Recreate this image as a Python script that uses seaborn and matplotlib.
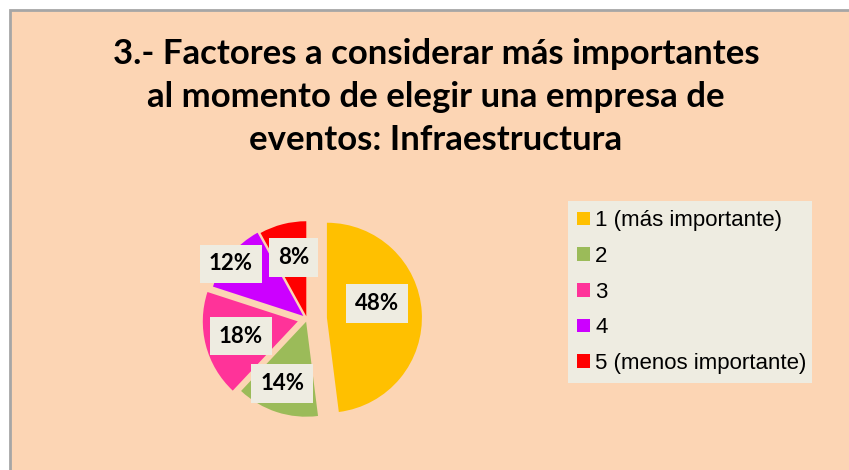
import matplotlib
matplotlib.use("Agg")
import matplotlib.pyplot as plt
import matplotlib.patches as mpatches
import seaborn as sns
import numpy as np

# data
categories = ["1 (más importante)", "2", "3", "4", "5 (menos importante)"]
values = [48, 14, 18, 12, 8]
pct_labels = ["48%", "14%", "18%", "12%", "8%"]
title = "3.- Factores a considerar más importantes\nal momento de elegir una empresa de\neventos: Infraestructura"

colors = sns.color_palette(["#FFC000", "#9BBB59", "#FF3399", "#CC00FF", "#FF0000"])
explode = [0.21, 0.03, 0.10, 0.05, 0.03]
# label placement (radial fraction, angle offset in degrees) per slice
lab_dist = [0.55, 0.70, 0.62, 0.94, 0.63]
lab_off = [12, -3, 0, 4, -2]

sns.set_theme(style="white")
plt.rcParams["font.family"] = ["Liberation Sans", "DejaVu Sans"]

W, H = 849, 470
fig = plt.figure(figsize=(W / 100, H / 100), dpi=100)
fig.patch.set_facecolor("white")

# chart area background with grey frame (cropped at right/bottom)
bg = mpatches.Rectangle((10 / W, -0.1), 1.2, 1 - 10 / H + 0.1, transform=fig.transFigure,
                        facecolor="#FCD5B4", edgecolor="#A6A6A6", linewidth=2, zorder=-5)
fig.patches.append(bg)

fig.text(436 / W, 1 - 97 / H, title, ha="center", va="center", fontsize=25,
         fontweight="bold", family=["Lato", "DejaVu Sans"], linespacing=1.42, color="black")

# pie axes: centre at (307, 319) px, radius 95 px
cx, cy, R = 307, 319, 95
half = 150
ax = fig.add_axes([(cx - half) / W, (H - cy - half) / H, 2 * half / W, 2 * half / H])
ax.set_zorder(2)

wedges, _ = ax.pie(values, colors=colors, startangle=90, counterclock=False,
                   explode=explode, wedgeprops=dict(linewidth=0))
ax.set_xlim(-half / R, half / R)
ax.set_ylim(-half / R, half / R)
ax.axis("off")

for w, lab, d, off in zip(wedges, pct_labels, lab_dist, lab_off):
    ang = np.deg2rad((w.theta1 + w.theta2) / 2 + off)
    x = w.center[0] + d * w.r * np.cos(ang)
    y = w.center[1] + d * w.r * np.sin(ang)
    ax.text(x, y, lab, ha="center", va="center", fontsize=16, fontweight="bold",
            family=["Lato", "DejaVu Sans"], color="black",
            bbox=dict(boxstyle="square,pad=0.4", facecolor="#EEECE1", edgecolor="none"))

leg = fig.legend(wedges, categories, loc="upper left", mode="expand",
                 bbox_to_anchor=(568 / W, 0, 244 / W, 1 - 201 / H), borderaxespad=0,
                 frameon=True, fancybox=False, facecolor="#EEECE1", edgecolor="none",
                 framealpha=1, fontsize=16, handlelength=0.55, handleheight=0.55,
                 handletextpad=0.25, labelspacing=0.66, borderpad=0.42)
leg.get_frame().set_linewidth(0)
for t in leg.get_texts():
    t.set_color("black")

fig.savefig("out.png", dpi=100, facecolor=fig.get_facecolor())
